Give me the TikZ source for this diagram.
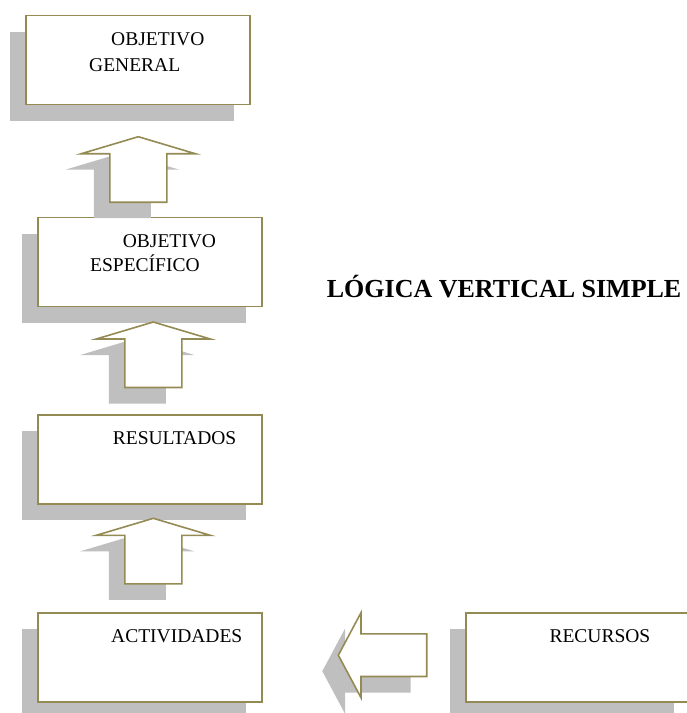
\documentclass[tikz,border=0pt]{standalone}
\usepackage{fontspec}
\setmainfont{Liberation Serif}
\usepackage{xcolor}
\usepackage{tikz}
\usetikzlibrary{shadows}
\definecolor{olivetan}{HTML}{948A54}
\definecolor{shadowgray}{HTML}{BFBFBF}
\tikzset{
  flatshadow/.style={drop shadow={shadow xshift=-16pt,shadow yshift=-16pt,
                     fill=shadowgray,opacity=1}},
  levelbox/.style={rectangle,draw=olivetan,fill=white,line width=1.6pt,
                   minimum width=224pt,minimum height=89pt,inner sep=0pt,flatshadow},
  boxtext/.style={anchor=base west,inner sep=0pt,font=\fontsize{19.5}{23}\selectfont},
  titletext/.style={anchor=base west,inner sep=0pt,font=\fontsize{26}{31}\selectfont\bfseries},
  blockarrow/.style={draw=olivetan,fill=white,line width=1.6pt,miter limit=20,flatshadow},
  pics/arrowup/.style={code={
    \draw[blockarrow] (0,0) -- (57,17) -- (28.5,17) -- (28.5,65.5)
      -- (-28.5,65.5) -- (-28.5,17) -- (-57,17) -- cycle;}},
  pics/arrowleft/.style={code={
    \draw[blockarrow] (0,0) -- (22.7,-42.5) -- (22.7,-21.3) -- (88.4,-21.3)
      -- (88.4,21.3) -- (22.7,21.3) -- (22.7,42.5) -- cycle;}},
}

\begin{document}
\begin{tikzpicture}[x=1pt,y=-1pt]
  \useasboundingbox (0,0) rectangle (687,713);
  % levels of the chain
  \node[levelbox] (general) at (138,60) {};
  \node[levelbox] (especifico) at (149.7,262) {};
  \node[levelbox] (resultados) at (149.7,459.5) {};
  \node[levelbox] (actividades) at (149.7,657.2) {};
  \node[levelbox] (recursos) at (578,657.2) {};
  % block arrows between levels
  \pic at (138.3,136.7) {arrowup};
  \pic at (153.3,322) {arrowup};
  \pic at (153.3,518.3) {arrowup};
  \pic at (338.3,655.2) {arrowleft};
  % labels
  \node[boxtext] (genA) at (111,45) {OBJETIVO};
  \node[boxtext] (genB) at (89,71) {GENERAL};
  \node[boxtext] (espA) at (122.7,247.7) {OBJETIVO};
  \node[boxtext] (espB) at (90,271) {ESPECÍFICO};
  \node[boxtext] (res) at (112.7,444) {RESULTADOS};
  \node[boxtext] (act) at (111,642.3) {ACTIVIDADES};
  \node[boxtext] (rec) at (549.3,642.3) {RECURSOS};
  \node[titletext] (title) at (326.7,297.3) {LÓGICA VERTICAL SIMPLE};
\end{tikzpicture}
\end{document}
